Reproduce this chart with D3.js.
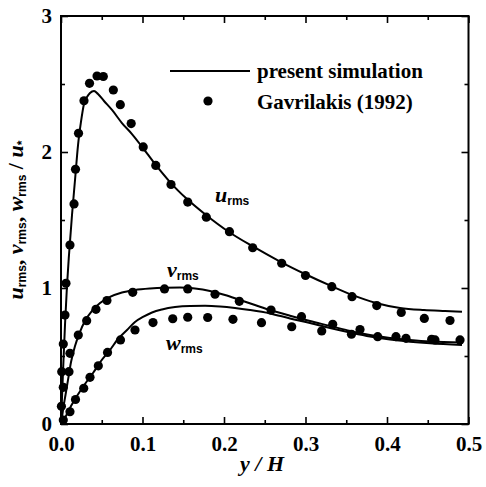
<!DOCTYPE html>
<html>
<head>
<meta charset="utf-8">
<script src="https://cdn.jsdelivr.net/npm/d3@7"></script>
<style>
  body { margin: 0; background: #fff; }
  svg { display: block; }
  .tick text { font-family: "Liberation Serif", serif; font-weight: bold; font-size: 21px; fill: #000; }
  .tick line { stroke: #000; stroke-width: 1.6; }
</style>
</head>
<body>
<svg id="chart"></svg>
<script>
// simulation curves [y/H, value]
const uLine = [[0,0],[0.00245,0.382],[0.0049,0.728],[0.0074,1.022],[0.0098,1.243],[0.0135,1.537],
  [0.0172,1.794],[0.0209,2.051],[0.0245,2.221],[0.0282,2.353],[0.0319,2.404],[0.0356,2.434],
  [0.0405,2.449],[0.0454,2.426],[0.0528,2.375],[0.0626,2.309],[0.0748,2.213],[0.0871,2.132],
  [0.1006,2.029],[0.1153,1.912],[0.1337,1.779],[0.1546,1.654],[0.1779,1.537],[0.2061,1.412],
  [0.2344,1.309],[0.2699,1.191],[0.2994,1.103],[0.3313,1.015],[0.3571,0.949],[0.3865,0.890],
  [0.4160,0.853],[0.4454,0.838],[0.4712,0.831],[0.4920,0.826]];

const vLine = [[0,0],[0.00245,0.103],[0.0055,0.213],[0.0086,0.324],[0.0123,0.456],[0.0172,0.574],
  [0.0227,0.669],[0.0294,0.757],[0.0380,0.831],[0.0479,0.890],[0.0601,0.934],[0.0748,0.967],
  [0.0908,0.985],[0.1092,0.996],[0.1276,1.002],[0.1460,1.004],[0.1644,0.996],[0.1828,0.978],
  [0.2012,0.949],[0.2196,0.912],[0.2380,0.875],[0.2564,0.838],[0.2810,0.796],[0.3055,0.757],
  [0.3301,0.721],[0.3546,0.684],[0.3791,0.654],[0.4037,0.632],[0.4282,0.618],[0.4528,0.607],
  [0.4920,0.599]];

const wLine = [[0,0],[0.0061,0.059],[0.0123,0.132],[0.0196,0.206],[0.0294,0.294],[0.0393,0.375],
  [0.0491,0.463],[0.0601,0.544],[0.0699,0.625],[0.0810,0.691],[0.0908,0.750],[0.1006,0.787],
  [0.1117,0.820],[0.1239,0.842],[0.1399,0.860],[0.1583,0.868],[0.1767,0.869],[0.1951,0.864],
  [0.2135,0.853],[0.2319,0.838],[0.2564,0.813],[0.2810,0.776],[0.3055,0.743],[0.3301,0.706],
  [0.3546,0.673],[0.3791,0.643],[0.4037,0.621],[0.4282,0.605],[0.4528,0.593],[0.4920,0.581]];

// Gavrilakis (1992) points
const uPts = [[0.0009,0.385],[0.0028,0.588],[0.0049,0.801],[0.0061,1.035],[0.0110,1.316],[0.0160,1.618],
  [0.0178,1.873],[0.0215,2.138],[0.0282,2.377],[0.0350,2.505],[0.0442,2.559],[0.0519,2.555],
  [0.0642,2.456],[0.0728,2.348],[0.0861,2.209],[0.1009,2.037],[0.1163,1.901],[0.1350,1.761],
  [0.1555,1.632],[0.1783,1.521],[0.2067,1.414],[0.2352,1.296],[0.2708,1.182],[0.3000,1.092],
  [0.3323,1.010],[0.3571,0.936],[0.3874,0.871],[0.4175,0.820],[0.4458,0.776],[0.4773,0.761]];

const vPts = [[0.0005,0.13],[0.0028,0.270],[0.0098,0.385],[0.0110,0.520],[0.0212,0.654],[0.0315,0.760],
  [0.0429,0.843],[0.0564,0.908],[0.0880,0.968],[0.1270,0.993],[0.1555,0.993],[0.1890,0.954],
  [0.2188,0.902],[0.2577,0.838],[0.2951,0.789],[0.3334,0.733],[0.3669,0.695],[0.4110,0.642],
  [0.4548,0.623],[0.4896,0.618]];

const wPts = [[0.0028,0.029],[0.0110,0.090],[0.0178,0.180],[0.0279,0.263],[0.0356,0.343],[0.0458,0.428],
  [0.0571,0.526],[0.0730,0.618],[0.0908,0.691],[0.1129,0.746],[0.1371,0.774],[0.1555,0.785],
  [0.1800,0.783],[0.2110,0.770],[0.2460,0.745],[0.2831,0.715],[0.3199,0.684],[0.3564,0.660],
  [0.3886,0.642],[0.4233,0.630],[0.4589,0.618]];

const xMajor = [0, 0.1, 0.2, 0.3, 0.4, 0.5];
const xMinor = [0.05, 0.15, 0.25, 0.35, 0.45];
const yMajor = [0, 1, 2, 3];
const yMinor = [0.5, 1.5, 2.5];

const width = 486, height = 487;
const margin = {top: 16, right: 17.5, bottom: 63, left: 61};

const svg = d3.select("#chart")
    .attr("width", width)
    .attr("height", height);

const x = d3.scaleLinear().domain([0, 0.5]).range([margin.left, width - margin.right]);
const y = d3.scaleLinear().domain([0, 3]).range([height - margin.bottom, margin.top]);

// Axes with inward ticks on all four sides
function addAxis(axis, transform, values, size, labels, pad) {
    const g = svg.append("g")
        .attr("transform", transform)
        .call(axis.tickValues(values).tickSize(-size).tickPadding(pad)
            .tickFormat(labels ? labels : ""));
    g.select(".domain").remove();
    return g;
}
const x0 = `translate(0,${y(0)})`, xTop = `translate(0,${y(3)})`;
const yL = `translate(${x(0)},0)`, yR = `translate(${x(0.5)},0)`;

addAxis(d3.axisBottom(x), x0, xMajor, 7, d3.format(".1f"), 12);
addAxis(d3.axisBottom(x), x0, xMinor, 4, null, 0);
addAxis(d3.axisTop(x), xTop, xMajor, 7, null, 0);
addAxis(d3.axisTop(x), xTop, xMinor, 4, null, 0);
addAxis(d3.axisLeft(y), yL, yMajor, 7, d3.format("d"), 9);
addAxis(d3.axisLeft(y), yL, yMinor, 4, null, 0);
addAxis(d3.axisRight(y), yR, yMajor, 7, null, 0);
addAxis(d3.axisRight(y), yR, yMinor, 4, null, 0);

// Frame
svg.append("rect")
    .attr("x", x(0))
    .attr("y", y(3))
    .attr("width", x(0.5) - x(0))
    .attr("height", y(0) - y(3))
    .attr("fill", "none")
    .attr("stroke", "#000")
    .attr("stroke-width", 2);

// Curves
const line = d3.line()
    .x(d => x(d[0]))
    .y(d => y(d[1]))
    .curve(d3.curveMonotoneX);

[uLine, vLine, wLine].forEach(data => {
    svg.append("path")
        .datum(data)
        .attr("fill", "none")
        .attr("stroke", "#000")
        .attr("stroke-width", 2)
        .attr("d", line);
});

// Points
[uPts, vPts, wPts].forEach(data => {
    svg.append("g").selectAll("circle")
        .data(data)
        .enter()
        .append("circle")
        .attr("cx", d => x(d[0]))
        .attr("cy", d => y(d[1]))
        .attr("r", 4.6)
        .attr("fill", "#000");
});

// Series labels: italic letter with "rms" subscript
function varLabel(g, letter, sx, sy) {
    const t = g.append("text")
        .attr("x", sx)
        .attr("y", sy);
    t.append("tspan")
        .style("font-family", "Liberation Serif, serif")
        .style("font-style", "italic")
        .style("font-weight", "bold")
        .style("font-size", "22px")
        .text(letter);
    t.append("tspan")
        .attr("dy", 3)
        .style("font-family", "Liberation Sans, sans-serif")
        .style("font-weight", "bold")
        .style("font-size", "12px")
        .text("rms");
    return t;
}
varLabel(svg, "u", 215, 202);
varLabel(svg, "v", 167, 277);
varLabel(svg, "w", 166, 350);

// Legend
svg.append("line")
    .attr("x1", 170).attr("x2", 250)
    .attr("y1", 71).attr("y2", 71)
    .attr("stroke", "#000")
    .attr("stroke-width", 2);
svg.append("circle")
    .attr("cx", 208).attr("cy", 101)
    .attr("r", 4.6)
    .attr("fill", "#000");
const legendText = ["present simulation", "Gavrilakis (1992)"];
legendText.forEach((s, i) => {
    svg.append("text")
        .attr("x", 257)
        .attr("y", 78 + i * 31)
        .style("font-family", "Liberation Serif, serif")
        .style("font-weight", "bold")
        .style("font-size", "21px")
        .text(s);
});

// X axis title
const xt = svg.append("text")
    .attr("x", 262)
    .attr("y", 471)
    .attr("text-anchor", "middle")
    .style("font-family", "Liberation Serif, serif")
    .style("font-style", "italic")
    .style("font-weight", "bold")
    .style("font-size", "22px")
    .text("y / H");

// Y axis title
const yt = svg.append("text")
    .attr("transform", "translate(23,220) rotate(-90)")
    .attr("text-anchor", "middle")
    .style("font-family", "Liberation Serif, serif")
    .style("font-weight", "bold")
    .style("font-size", "22px");
const parts = [["u", "rms", ", "], ["v", "rms", ", "], ["w", "rms", " / "], ["u", "*", ""]];
parts.forEach(p => {
    yt.append("tspan").style("font-style", "italic").text(p[0]);
    yt.append("tspan")
        .attr("dy", 3)
        .style("font-family", "Liberation Sans, sans-serif")
        .style("font-size", "12px")
        .text(p[1]);
    if (p[2]) yt.append("tspan").attr("dy", -3).text(p[2]);
});
</script>
</body>
</html>
